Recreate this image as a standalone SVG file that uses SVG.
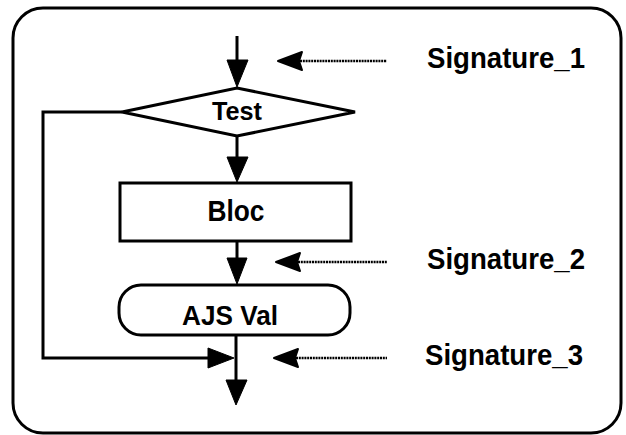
<svg xmlns="http://www.w3.org/2000/svg" width="626" height="435" viewBox="0 0 626 435">
<style>
.ln{fill:none;stroke:#000;stroke-width:3;stroke-linejoin:miter}
.hd{fill:#000;stroke:#000;stroke-width:1}
.sg{fill:none;stroke:#000;stroke-width:2.5;stroke-dasharray:2 0.8}
.sh{fill:#000;stroke:#000;stroke-width:2;stroke-linejoin:round}
.node{fill:#fff;stroke:#000;stroke-width:3}
.t{font-family:"Liberation Sans",Arial,sans-serif;font-weight:bold;fill:#000;text-anchor:middle}
.s{font-family:"Liberation Sans",Arial,sans-serif;font-weight:bold;fill:#000;font-size:30px}
</style>
<rect x="13" y="8" width="608" height="425" rx="30" ry="30" fill="#fff" stroke="#000" stroke-width="3"/>
<g id="connectors">
  <line class="ln" x1="237" y1="36" x2="237" y2="64"/>
  <polygon class="hd" points="227,60 248,60 237,87"/>
  <line class="ln" x1="237" y1="136" x2="237" y2="160"/>
  <polygon class="hd" points="227,157 248,157 237,182"/>
  <line class="ln" x1="237" y1="241" x2="237" y2="262"/>
  <polygon class="hd" points="227,258 247,258 237,284"/>
  <line class="ln" x1="236" y1="335" x2="236" y2="383"/>
  <polygon class="hd" points="226,380 247,380 236,405"/>
  <polyline class="ln" points="122,112 43,112 43,358 210,358"/>
  <polygon class="hd" points="208,348 208,368 234,358"/>
</g>
<g id="test">
  <polygon class="node" points="122,112 237,88 355,112 237,136"/>
  <text class="t" x="237" y="120" font-size="26" textLength="50" lengthAdjust="spacingAndGlyphs">Test</text>
</g>
<g id="bloc">
  <rect class="node" x="120" y="183" width="231" height="58"/>
  <text class="t" x="236" y="221" font-size="29" textLength="57" lengthAdjust="spacingAndGlyphs">Bloc</text>
</g>
<g id="ajsval">
  <rect class="node" x="119" y="285" width="231" height="50" rx="22" ry="22"/>
  <text class="t" x="230" y="325" font-size="27" textLength="96" lengthAdjust="spacingAndGlyphs">AJS Val</text>
</g>
<g id="signature1">
  <line class="sg" x1="300" y1="61" x2="387" y2="61"/>
  <polygon class="sh" points="278,61 302,52 299,61 302,70"/>
  <text class="s" x="427" y="68" textLength="158" lengthAdjust="spacingAndGlyphs">Signature_1</text>
</g>
<g id="signature2">
  <line class="sg" x1="298" y1="262" x2="387" y2="262"/>
  <polygon class="sh" points="276,262 300,253 297,262 300,271"/>
  <text class="s" x="427" y="269" textLength="158" lengthAdjust="spacingAndGlyphs">Signature_2</text>
</g>
<g id="signature3">
  <line class="sg" x1="296" y1="358" x2="387" y2="358"/>
  <polygon class="sh" points="274,358 298,349 295,358 298,367"/>
  <text class="s" x="425" y="365" textLength="158" lengthAdjust="spacingAndGlyphs">Signature_3</text>
</g>
</svg>
